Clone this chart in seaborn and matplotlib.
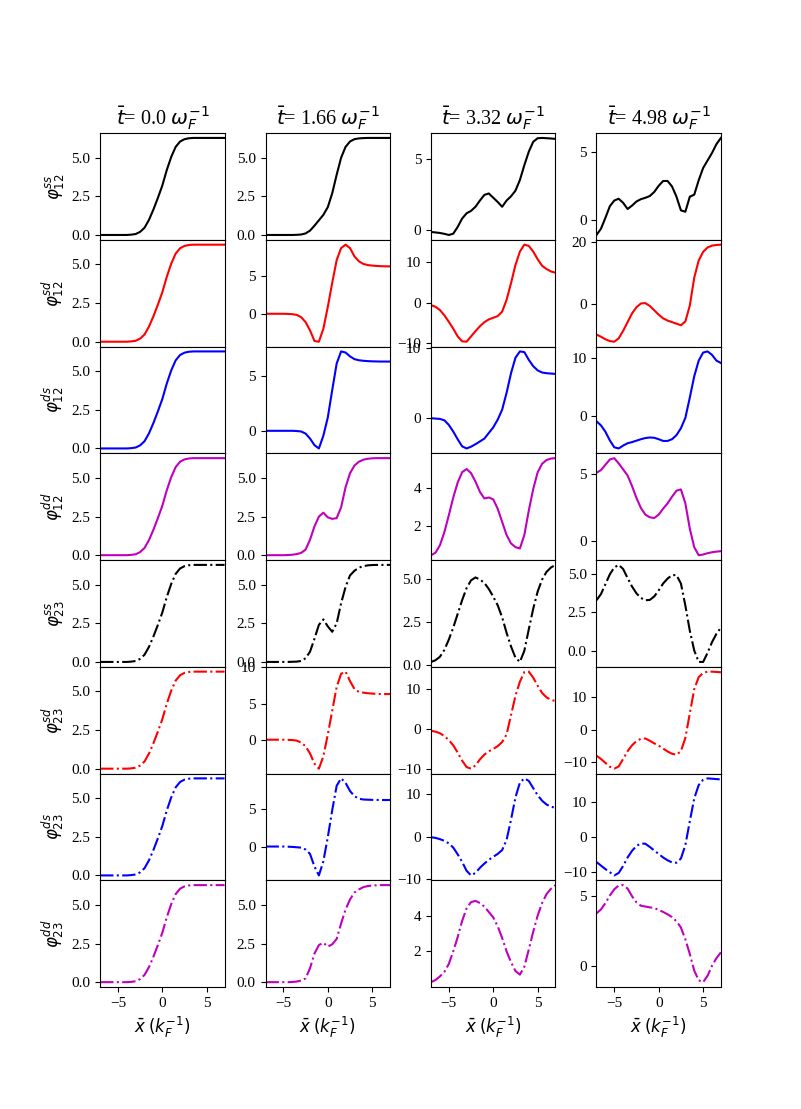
import numpy as np
import pandas as pd
import matplotlib
matplotlib.use('Agg')
import matplotlib.pyplot as plt
import seaborn as sns

plt.rcParams['font.family'] = 'serif'
plt.rcParams['font.serif'] = ['Liberation Serif', 'DejaVu Serif']
plt.rcParams['mathtext.fontset'] = 'dejavusans'
plt.rcParams['xtick.labelsize'] = 11
plt.rcParams['ytick.labelsize'] = 11

# x grid (k_F^-1)
x = np.linspace(-7, 7, 29)

times = ['0.0', '1.66', '3.32', '4.98']
row_names = ['12}^{ss', '12}^{sd', '12}^{ds', '12}^{dd',
             '23}^{ss', '23}^{sd', '23}^{ds', '23}^{dd']
colors = ['k', 'r', 'b', 'm', 'k', 'r', 'b', 'm']
styles = ['-', '-', '-', '-', '-.', '-.', '-.', '-.']

# t = 0.0 : every phase is the same kink
phi_t0 = [0, 0, 0, 0, 0, 0, 0, 0.02, 0.06, 0.2, 0.47, 0.98, 1.65, 2.4, 3.2,
          4.2, 5.05, 5.7, 6.05, 6.2, 6.26, 6.28, 6.28, 6.28, 6.28, 6.28, 6.28, 6.28, 6.28]

# t = 1.66
ss12_t1 = [0, 0, 0, 0, 0, 0, 0, 0.01, 0.03, 0.1, 0.28, 0.6, 0.95, 1.3, 1.8,
           2.7, 3.9, 5.0, 5.7, 6.05, 6.2, 6.25, 6.27, 6.28, 6.28, 6.28, 6.28, 6.28, 6.28]
sd12_t1 = [0, 0, 0, 0, 0, -0.02, -0.05, -0.15, -0.45, -1.1, -2.2, -3.6, -3.7, -2.0, 0.9,
           4.1, 7.1, 8.7, 9.15, 8.7, 7.6, 6.95, 6.6, 6.45, 6.38, 6.33, 6.3, 6.28, 6.28]
ds12_t1 = [0, 0, 0, 0, 0, 0, 0, -0.02, -0.06, -0.25, -0.7, -1.3, -1.6, -0.45, 1.2,
           3.7, 6.1, 7.2, 7.1, 6.75, 6.5, 6.4, 6.35, 6.32, 6.3, 6.29, 6.28, 6.28, 6.28]
dd12_t1 = [0, 0, 0, 0, 0, 0.01, 0.03, 0.07, 0.15, 0.36, 1.0, 1.86, 2.5, 2.75, 2.45,
           2.35, 2.4, 3.1, 4.4, 5.3, 5.8, 6.05, 6.18, 6.24, 6.27, 6.28, 6.28, 6.28, 6.28]
ss23_t1 = [0, 0, 0, 0, 0, 0, 0.01, 0.02, 0.06, 0.24, 0.66, 1.5, 2.4, 2.75, 2.3,
           1.95, 2.5, 3.8, 4.85, 5.6, 5.9, 6.1, 6.2, 6.25, 6.27, 6.28, 6.28, 6.28, 6.28]
sd23_t1 = [0, 0, 0, 0, 0, -0.02, -0.05, -0.12, -0.4, -0.9, -1.9, -3.3, -4.0, -2.3, 0.7,
           4.0, 7.3, 9.1, 9.4, 8.1, 7.0, 6.6, 6.5, 6.42, 6.37, 6.33, 6.3, 6.3, 6.3]
ds23_t1 = [0, 0, 0, 0, 0, -0.02, -0.05, -0.1, -0.15, -0.4, -1.0, -2.7, -3.9, -2.0, 1.25,
           4.9, 8.2, 9.2, 8.6, 7.5, 6.8, 6.45, 6.35, 6.32, 6.3, 6.29, 6.28, 6.28, 6.28]
dd23_t1 = [0, 0, 0, 0, 0, 0, 0.01, 0.04, 0.1, 0.24, 0.9, 1.85, 2.4, 2.55, 2.3,
           2.45, 2.8, 3.8, 4.7, 5.35, 5.8, 6.0, 6.15, 6.22, 6.25, 6.27, 6.28, 6.28, 6.28]

# t = 3.32
ss12_t2 = [-0.12, -0.15, -0.19, -0.25, -0.33, -0.24, 0.24, 0.83, 1.2, 1.37, 1.66, 2.1, 2.5, 2.6, 2.3,
           2.0, 1.66, 2.1, 2.4, 2.8, 3.55, 4.6, 5.55, 6.25, 6.5, 6.52, 6.5, 6.48, 6.45]
sd12_t2 = [-0.6, -1.0, -1.8, -3.1, -4.7, -6.4, -8.3, -9.5, -9.6, -8.3, -7.0, -5.8, -4.8, -4.1, -3.7,
           -3.3, -2.2, 0.7, 4.8, 9.3, 12.6, 14.3, 14.0, 12.6, 10.7, 9.1, 8.3, 7.7, 7.4]
ds12_t2 = [0, -0.05, -0.1, -0.3, -0.95, -1.9, -3.0, -4.0, -4.3, -4.05, -3.7, -3.3, -2.9, -2.1, -1.3,
           -0.2, 1.2, 3.6, 6.4, 8.6, 9.5, 9.4, 8.3, 7.4, 6.8, 6.5, 6.4, 6.35, 6.3]
dd12_t2 = [0.42, 0.55, 0.95, 1.65, 2.55, 3.5, 4.3, 4.85, 5.02, 4.8, 4.35, 3.8, 3.45, 3.5, 3.4,
           2.9, 2.2, 1.5, 1.05, 0.85, 0.78, 1.5, 2.8, 3.95, 4.85, 5.3, 5.5, 5.58, 5.6]
ss23_t2 = [0.2, 0.3, 0.5, 0.9, 1.5, 2.2, 3.0, 3.8, 4.5, 4.95, 5.12, 5.0, 4.8, 4.45, 4.0,
           3.5, 2.8, 1.9, 1.1, 0.45, 0.2, 0.85, 2.1, 3.3, 4.3, 5.0, 5.45, 5.7, 5.85]
sd23_t2 = [-0.4, -0.6, -1.0, -1.7, -2.7, -4.0, -5.8, -7.8, -9.4, -9.8, -9.0, -7.5, -6.3, -5.5, -4.9,
           -4.2, -3.2, -1.3, 3.5, 8.3, 11.8, 14.2, 14.3, 12.8, 10.8, 9.0, 7.9, 7.3, 7.0]
ds23_t2 = [-0.15, -0.3, -0.6, -1.0, -1.6, -2.6, -4.2, -6.0, -8.1, -9.2, -8.6, -7.4, -6.4, -5.5, -4.8,
           -4.1, -3.2, -0.8, 4.0, 9.3, 12.8, 13.8, 13.2, 11.5, 9.8, 8.5, 7.6, 7.1, 6.8]
dd23_t2 = [0.28, 0.4, 0.6, 0.85, 1.3, 2.0, 2.8, 3.7, 4.4, 4.75, 4.82, 4.7, 4.5, 4.2, 3.9,
           3.4, 2.75, 2.0, 1.4, 0.9, 0.7, 1.15, 2.1, 3.1, 4.0, 4.7, 5.2, 5.5, 5.7]

# t = 4.98
ss12_t3 = [-1.1, -0.65, 0.15, 1.0, 1.42, 1.55, 1.25, 0.8, 1.05, 1.35, 1.52, 1.62, 1.75, 2.05, 2.5,
           2.85, 2.85, 2.45, 1.7, 0.7, 0.6, 1.7, 1.85, 2.9, 3.8, 4.35, 4.9, 5.55, 6.0]
sd12_t3 = [-9.8, -10.5, -11.3, -11.9, -12.1, -11.0, -8.6, -5.8, -3.0, -1.0, 0.2, 0.3, -0.6, -2.0, -3.4,
           -4.6, -5.3, -5.8, -6.3, -6.8, -5.6, -0.5, 8.5, 14.0, 16.8, 18.2, 18.8, 19.0, 19.1]
ds12_t3 = [-1.0, -1.7, -2.8, -4.3, -5.5, -5.7, -5.2, -4.8, -4.6, -4.35, -4.1, -3.9, -3.8, -3.85, -4.1,
           -4.4, -4.4, -4.1, -3.4, -2.2, -0.4, 3.1, 6.8, 9.5, 10.9, 11.1, 10.5, 9.5, 9.1]
dd12_t3 = [5.1, 5.3, 5.7, 6.1, 6.2, 5.8, 5.35, 4.9, 4.1, 3.2, 2.45, 1.95, 1.75, 1.7, 1.95,
           2.4, 2.8, 3.3, 3.75, 3.85, 2.8, 0.9, -0.5, -1.1, -1.05, -0.95, -0.88, -0.83, -0.8]
ss23_t3 = [3.3, 3.7, 4.35, 5.0, 5.45, 5.62, 5.35, 4.75, 4.2, 3.75, 3.45, 3.3, 3.32, 3.55, 3.95,
           4.4, 4.72, 4.95, 4.95, 4.4, 2.95, 1.3, 0.0, -0.75, -0.75, -0.15, 0.55, 1.1, 1.5]
sd23_t3 = [-8.0, -9.0, -10.2, -11.4, -12.0, -11.3, -9.0, -6.6, -4.8, -3.5, -2.8, -2.7, -3.4, -4.2, -4.9,
           -5.8, -6.7, -7.4, -7.7, -6.6, -2.5, 5.0, 12.5, 16.2, 17.5, 17.9, 17.9, 17.8, 17.7]
ds23_t3 = [-7.1, -8.1, -9.1, -10.0, -10.9, -10.2, -8.2, -5.8, -3.9, -2.5, -1.8, -1.9, -2.8, -3.8, -4.8,
           -5.8, -6.6, -7.2, -7.3, -6.1, -2.3, 4.5, 11.0, 14.8, 16.3, 16.7, 16.6, 16.5, 16.4]
dd23_t3 = [3.77, 4.05, 4.5, 5.05, 5.5, 5.78, 5.8, 5.55, 5.0, 4.55, 4.32, 4.26, 4.2, 4.15, 4.02,
           3.87, 3.7, 3.5, 3.2, 2.75, 1.9, 0.85, -0.35, -1.05, -1.18, -0.72, 0.0, 0.55, 0.96]

columns = [
    [phi_t0] * 8,
    [ss12_t1, sd12_t1, ds12_t1, dd12_t1, ss23_t1, sd23_t1, ds23_t1, dd23_t1],
    [ss12_t2, sd12_t2, ds12_t2, dd12_t2, ss23_t2, sd23_t2, ds23_t2, dd23_t2],
    [ss12_t3, sd12_t3, ds12_t3, dd12_t3, ss23_t3, sd23_t3, ds23_t3, dd23_t3],
]

fig, axes = plt.subplots(8, 4, figsize=(8.01, 11.09), dpi=100)
fig.subplots_adjust(wspace=0.33, hspace=0)

for j in range(4):
    for i in range(8):
        ax = axes[i, j]
        df = pd.DataFrame({'x': x, 'phi': columns[j][i]})
        sns.lineplot(data=df, x='x', y='phi', ax=ax, color=colors[i],
                     linestyle=styles[i], linewidth=1.5)
        ax.set_xlim(-7, 7)
        ax.set_xlabel('')
        ax.set_ylabel('')
        if i < 7:
            ax.tick_params(axis='x', bottom=False, labelbottom=False)
        else:
            ax.set_xticks([-5, 0, 5])
            ax.set_xlabel(r'$\bar{x}$ $(k_F^{-1})$', fontsize=12)
        if j == 0:
            ax.set_ylabel(r'$\varphi_{' + row_names[i] + '}$', fontsize=12)
    axes[0, j].set_title(r'$\bar{t}$= ' + times[j] + r' $\omega_F^{-1}$', fontsize=14.5)

fig.savefig('out.png', dpi=100)
